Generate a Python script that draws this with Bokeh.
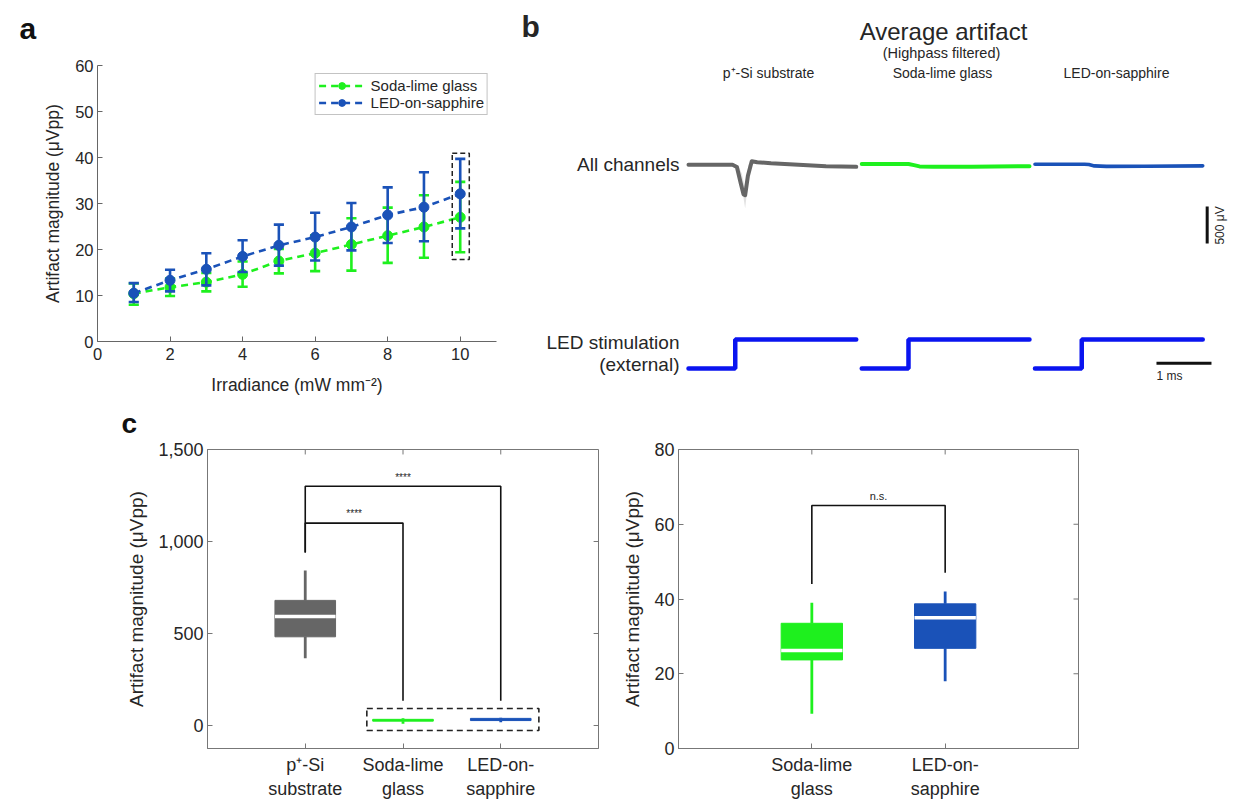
from bokeh.plotting import figure
from bokeh.models import (ColumnDataSource, Range1d, FixedTicker, Label, Title,
                          Legend, LegendItem, NumeralTickFormatter)
from bokeh.layouts import column, row
from bokeh.embed import file_html
from bokeh.resources import INLINE

FONT = "Liberation Sans"
TXT = "#262626"
GREEN = "#1ef01e"
BLUE = "#1a52b8"
GRAY = "#666666"
LEDBLUE = "#0a14f0"

# ---------------- Panel a data ----------------
irradiance = [1, 2, 3, 4, 5, 6, 7, 8, 9, 10]
soda_mean = [10.4, 11.8, 12.9, 14.6, 17.5, 19.2, 21.1, 23.0, 24.9, 27.0]
soda_lo = [8.0, 9.9, 10.9, 11.9, 14.8, 15.3, 15.4, 17.1, 18.2, 19.4]
soda_hi = [12.6, 13.7, 14.9, 17.4, 20.1, 23.1, 26.8, 29.1, 31.8, 34.7]
led_mean = [10.5, 13.3, 15.7, 18.5, 20.9, 22.7, 24.9, 27.5, 29.2, 32.1]
led_lo = [8.6, 10.9, 12.2, 15.1, 16.5, 17.6, 19.8, 21.4, 21.8, 24.6]
led_hi = [12.7, 15.6, 19.2, 22.0, 25.4, 28.0, 30.1, 33.5, 36.8, 39.7]
a_xticks = [0, 2, 4, 6, 8, 10]
a_yticks = [0, 10, 20, 30, 40, 50, 60]
highlight_x = 10

# ---------------- Panel b data ----------------
trace_labels = ["p\u207a-Si substrate", "Soda-lime glass", "LED-on-sapphire"]
gray_t = [0, 0.8, 0.88, 0.95, 1.0, 1.03, 1.08, 1.15, 1.25, 1.5, 2.0, 2.5, 3.05]
gray_v = [0, 0, -30, -250, -400, -410, -150, 47, 35, 20, 0, -20, -28]
shade_t = [0.9, 0.97, 1.03, 1.09, 1.15]
shade_lo = [-30, -300, -590, -200, 0]
shade_hi = [0, -120, -330, 0, 40]
green_t = [0, 0.85, 0.95, 1.05, 1.3, 2.0, 3.05]
green_v = [10, 10, -5, -22, -27, -25, -20]
blue_t = [0, 0.9, 0.98, 1.08, 1.3, 2.0, 3.05]
blue_v = [8, 8, 3, -15, -22, -20, -15]
led_t = [0, 0.85, 0.85, 3.05]
led_v = [0, 0, 1, 1]
segment_offsets = [0, 3.15, 6.3]
scale_uv = 500
scale_ms = 1

# ---------------- Panel c data ----------------
c1_pos = [1, 2, 3]
c1_names = ["p\u207a-Si\nsubstrate", "Soda-lime\nglass", "LED-on-\nsapphire"]
c1_q1 = [482, 23.7, 26.8]
c1_med = [593, 26.2, 35.0]
c1_q3 = [680, 33.5, 38.7]
c1_wlo = [365, 9.3, 18.0]
c1_whi = [842, 39.0, 42.0]
c1_colors = [GRAY, GREEN, BLUE]
c1_yticks = [0, 500, 1000, 1500]

c2_pos = [1, 2]
c2_names = ["Soda-lime\nglass", "LED-on-\nsapphire"]
c2_q1 = [23.7, 26.8]
c2_med = [26.2, 35.0]
c2_q3 = [33.5, 38.7]
c2_wlo = [9.3, 18.0]
c2_whi = [39.0, 42.0]
c2_colors = [GREEN, BLUE]
c2_yticks = [0, 20, 40, 60, 80]

TOP_H = 397
BOT_H = 404


def style_axes(p, tick_size, label_size, line_color):
    for ax in p.axis:
        ax.axis_line_color = line_color
        ax.major_tick_line_color = line_color
        ax.minor_tick_line_color = None
        ax.major_tick_in = 5
        ax.major_tick_out = 0
        ax.major_label_text_font = FONT
        ax.major_label_text_font_size = tick_size
        ax.major_label_text_color = TXT
        ax.axis_label_text_font = FONT
        ax.axis_label_text_font_size = label_size
        ax.axis_label_text_color = TXT
        ax.axis_label_text_font_style = "normal"
    p.xgrid.visible = False
    p.ygrid.visible = False


# ================= letter strip for panel a =================
pl = figure(width=40, height=TOP_H, output_backend="svg", toolbar_location=None,
            x_range=Range1d(0, 40), y_range=Range1d(TOP_H, 0),
            x_axis_type=None, y_axis_type=None,
            min_border_left=0, min_border_right=0, min_border_top=0, min_border_bottom=0)
pl.outline_line_color = None
pl.xgrid.visible = False
pl.ygrid.visible = False
pl.add_layout(Label(x=19, y=27.6, text="a", text_font=FONT, text_font_size="30px",
                    text_font_style="bold", text_align="left", text_baseline="middle",
                    text_color="#111111"))

# ================= Panel a =================
pa = figure(width=478, height=TOP_H, output_backend="svg", toolbar_location=None,
            x_range=Range1d(0, 11), y_range=Range1d(0, 60),
            min_border_left=56, min_border_right=22, min_border_top=65, min_border_bottom=TOP_H - 341)
pa.outline_line_color = None
pa.xaxis.ticker = FixedTicker(ticks=a_xticks)
pa.yaxis.ticker = FixedTicker(ticks=a_yticks)
pa.xaxis.axis_label = "Irradiance (mW mm\u207b\u00b2)"
pa.yaxis.axis_label = "Artifact magnitude (\u03bcVpp)"
style_axes(pa, "16.5px", "17.5px", "#666666")
pa.xaxis.major_label_standoff = 6
pa.yaxis.major_label_standoff = 4
pa.xaxis.axis_label_standoff = 12
pa.yaxis.axis_label_standoff = 9

cap = 0.14
renderers = {}
for name, mean, lo, hi, col in [("Soda-lime glass", soda_mean, soda_lo, soda_hi, GREEN),
                                ("LED-on-sapphire", led_mean, led_lo, led_hi, BLUE)]:
    src = ColumnDataSource(dict(x=irradiance, m=mean, lo=lo, hi=hi,
                                xl=[v - cap for v in irradiance], xr=[v + cap for v in irradiance]))
    ln = pa.line("x", "m", source=src, line_color=col, line_width=2.6, line_dash="7 5")
    pa.segment("x", "lo", "x", "hi", source=src, line_color=col, line_width=2.6)
    pa.segment("xl", "lo", "xr", "lo", source=src, line_color=col, line_width=2.6)
    pa.segment("xl", "hi", "xr", "hi", source=src, line_color=col, line_width=2.6)
    sc = pa.scatter("x", "m", source=src, size=10, fill_color=col, line_color=col)
    renderers[name] = [ln, sc]

hi_idx = irradiance.index(highlight_x)
pa.quad(left=[highlight_x - 0.22], right=[highlight_x + 0.25],
        bottom=[min(soda_lo[hi_idx], led_lo[hi_idx]) - 1.6],
        top=[max(soda_hi[hi_idx], led_hi[hi_idx]) + 1.2],
        fill_color=None, line_color="#222222", line_width=1.5, line_dash="5 3")

legend = Legend(items=[LegendItem(label=k, renderers=v) for k, v in renderers.items()],
                location="top_right", margin=8, padding=3, spacing=0,
                label_text_font=FONT, label_text_font_size="15px", label_text_color=TXT,
                label_height=17, glyph_height=17, glyph_width=46, label_standoff=6,
                border_line_color="#888888", border_line_width=1, background_fill_alpha=1)
pa.add_layout(legend)

# ================= Panel b =================
pb = figure(width=718, height=TOP_H, output_backend="svg", toolbar_location=None,
            x_range=Range1d(-3.091, 9.964), y_range=Range1d(-3145, 2220),
            x_axis_type=None, y_axis_type=None,
            min_border_left=0, min_border_right=0, min_border_top=0, min_border_bottom=0)
pb.outline_line_color = None
pb.xgrid.visible = False
pb.ygrid.visible = False
pb.extra_y_ranges = {"led": Range1d(-1.0, 12.69)}

o = segment_offsets
pb.varea(x=[t + o[0] for t in shade_t], y1=shade_lo, y2=shade_hi, fill_color="#d9d9d9", fill_alpha=0.8)
pb.line([t + o[0] for t in gray_t], gray_v, line_color=GRAY, line_width=4, line_join="round", line_cap="round")
pb.line([t + o[1] for t in green_t], green_v, line_color=GREEN, line_width=4, line_join="round", line_cap="round")
pb.line([t + o[2] for t in blue_t], blue_v, line_color=BLUE, line_width=3.6, line_join="round", line_cap="round")
for off in o:
    pb.line([t + off for t in led_t], led_v, y_range_name="led", line_color=LEDBLUE,
            line_width=4.5, line_cap="round")

# scale bars
pb.segment(x0=[9.431], y0=[-564], x1=[9.431], y1=[-564 - scale_uv], line_color="#111111", line_width=3)
pb.segment(x0=[8.509], y0=[-2681], x1=[8.509 + scale_ms], y1=[-2681], line_color="#111111", line_width=3)


def blabel(x, y, text, size, align="center", baseline="middle", angle=0, style="normal"):
    pb.add_layout(Label(x=x, y=y, text=text, text_font=FONT, text_font_size=size,
                        text_align=align, text_baseline=baseline, angle=angle,
                        text_color=TXT, text_font_style=style))


blabel(-3.036, 1870, "b", "30px", align="left", baseline="alphabetic", style="bold")
blabel(4.636, 1801, "Average artifact", "24px")
blabel(4.60, 1504, "(Highpass filtered)", "14.5px")
for xc, lab in zip([1.455, 4.618, 7.782], trace_labels):
    blabel(xc, 1234, lab, "14px")
blabel(-0.164, 4, "All channels", "19px", align="right")
blabel(-0.164, -2401, "LED stimulation", "19px", align="right")
blabel(-0.164, -2699, "(external)", "19px", align="right")
blabel(9.673, -820, "500 \u03bcV", "12px", angle=1.5708)
blabel(8.509, -2861, "1 ms", "12px", align="left")


# ================= Panel c =================
def boxplot(p, pos, q1, med, q3, wlo, whi, colors, half):
    src = ColumnDataSource(dict(x=pos, q1=q1, med=med, q3=q3, wlo=wlo, whi=whi, c=colors,
                                xl=[v - half for v in pos], xr=[v + half for v in pos]))
    p.segment("x", "wlo", "x", "q1", source=src, line_color="c", line_width=2.8)
    p.segment("x", "q3", "x", "whi", source=src, line_color="c", line_width=2.8)
    p.quad(left="xl", right="xr", bottom="q1", top="q3", source=src,
           fill_color="c", line_color="c", line_width=1)
    return src


def bracket(p, x1, x2, y, yl1, yl2, text, size, ty):
    p.line([x1, x1, x2, x2], [yl1, y, y, yl2], line_color="#111111", line_width=1.6)
    p.add_layout(Label(x=(x1 + x2) / 2, y=ty, text=text, text_font=FONT, text_font_size=size,
                       text_align="center", text_baseline="middle", text_color=TXT))


def box_ticks(p, xticks, yticks, dx, dy):
    # inward tick marks on the top and right edges of the box
    xr = p.x_range.end
    yt = p.y_range.end
    p.segment(x0=xticks, y0=[yt] * len(xticks), x1=xticks, y1=[yt - dy] * len(xticks),
              line_color="#777777", line_width=1)
    p.segment(x0=[xr] * len(yticks), y0=yticks, x1=[xr - dx] * len(yticks), y1=yticks,
              line_color="#777777", line_width=1)


c_border_top = 449 - TOP_H
pc1 = figure(width=618, height=BOT_H, output_backend="svg", toolbar_location=None,
             x_range=Range1d(0, 4), y_range=Range1d(-125, 1500),
             title=Title(text="c", align="left", offset=-86, vertical_align="top", standoff=18,
                         text_font=FONT, text_font_size="28px", text_font_style="bold",
                         text_color="#111111"),
             min_border_left=207, min_border_right=20, min_border_top=c_border_top,
             min_border_bottom=BOT_H - (749 - TOP_H))
pc1.outline_line_color = "#777777"
pc1.xaxis.ticker = FixedTicker(ticks=c1_pos)
pc1.xaxis.major_label_overrides = {k: v for k, v in zip(c1_pos, c1_names)}
pc1.yaxis.ticker = FixedTicker(ticks=c1_yticks)
pc1.yaxis.formatter = NumeralTickFormatter(format="0,0")
pc1.yaxis.axis_label = "Artifact magnitude (\u03bcVpp)"
style_axes(pc1, "18px", "19px", "#777777")
pc1.xaxis.major_label_standoff = 6
pc1.yaxis.major_label_standoff = 4
pc1.yaxis.axis_label_standoff = 8
box_ticks(pc1, c1_pos, c1_yticks, 0.05, 27)
boxplot(pc1, c1_pos, c1_q1, c1_med, c1_q3, c1_wlo, c1_whi, c1_colors, 0.31)
pc1.segment(x0=[c1_pos[0] - 0.31], y0=[c1_med[0]], x1=[c1_pos[0] + 0.31], y1=[c1_med[0]],
            line_color="white", line_width=3.5)
bracket(pc1, 1, 2, 1100, 940, 135, "****", "10px", 1150)
bracket(pc1, 1, 3, 1300, 940, 135, "****", "10px", 1350)
pc1.quad(left=[1.63], right=[3.39], bottom=[-27], top=[92], fill_color=None,
         line_color="#222222", line_width=1.6, line_dash="6 4")

pc2 = figure(width=618, height=BOT_H, output_backend="svg", toolbar_location=None,
             x_range=Range1d(0, 3), y_range=Range1d(0, 80),
             min_border_left=60, min_border_right=158, min_border_top=c_border_top,
             min_border_bottom=BOT_H - (749 - TOP_H))
pc2.outline_line_color = "#777777"
pc2.xaxis.ticker = FixedTicker(ticks=c2_pos)
pc2.xaxis.major_label_overrides = {k: v for k, v in zip(c2_pos, c2_names)}
pc2.yaxis.ticker = FixedTicker(ticks=c2_yticks)
pc2.yaxis.axis_label = "Artifact magnitude (\u03bcVpp)"
style_axes(pc2, "18px", "19px", "#777777")
pc2.xaxis.major_label_standoff = 6
pc2.yaxis.major_label_standoff = 4
pc2.yaxis.axis_label_standoff = 8
box_ticks(pc2, c2_pos, c2_yticks, 0.0375, 1.33)
boxplot(pc2, c2_pos, c2_q1, c2_med, c2_q3, c2_wlo, c2_whi, c2_colors, 0.23)
pc2.segment(x0=[v - 0.23 for v in c2_pos], y0=c2_med, x1=[v + 0.23 for v in c2_pos], y1=c2_med,
            line_color="white", line_width=3.5)
bracket(pc2, 1, 2, 65, 44, 47, "n.s.", "11px", 67.6)

layout = column(row(column(pl), column(pa), column(pb)), row(column(pc1), column(pc2)))
open("out.html", "w").write(file_html(layout, INLINE))
